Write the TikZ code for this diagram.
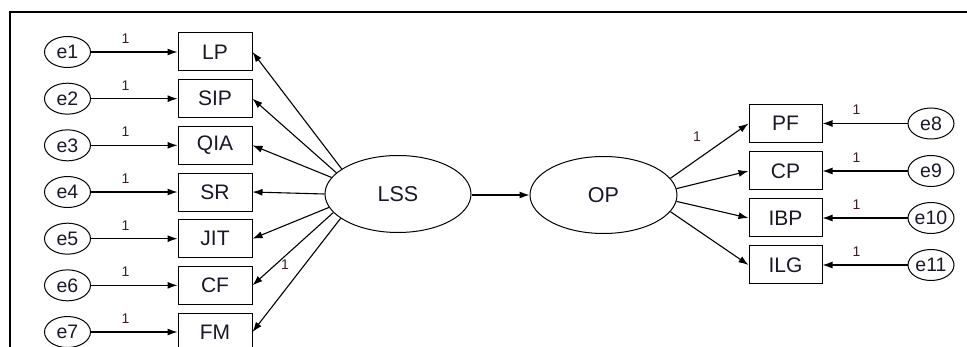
\documentclass[tikz,border=0pt]{standalone}
\usepackage{fontspec}
\setmainfont{Liberation Sans}
\usetikzlibrary{arrows.meta,shapes.geometric}
\definecolor{ink}{RGB}{24,24,40}
\definecolor{lblink}{RGB}{60,30,36}
\newcommand{\errfont}{\fontsize{19.5}{21}\selectfont}
\newcommand{\obsfont}{\fontsize{21}{23}\selectfont}
\newcommand{\latfont}{\fontsize{21.5}{23}\selectfont}
\newcommand{\lblfont}{\fontsize{14}{15}\selectfont}
\begin{document}
\begin{tikzpicture}[x=1pt,y=-1pt,
  every node/.style={text=ink},
  err/.style={draw,ellipse,line width=1pt,minimum width=46pt,minimum height=31pt,inner sep=0pt,
    font=\errfont},
  obs/.style={draw,rectangle,line width=1pt,minimum width=74pt,minimum height=38pt,inner sep=0pt,
    font=\obsfont},
  lat/.style={draw,ellipse,line width=1pt,minimum width=146pt,minimum height=77pt,inner sep=0pt,
    font=\latfont},
  path1/.style={draw,line width=1.1pt,-{Latex[length=10pt,width=7pt]}},
  lbl/.style={text=lblink,font=\lblfont,inner sep=0pt},
  framed/.style={line width=1.8pt}]
\clip (0,0) rectangle (967,347);

% frame lines
\coordinate (fr1) at (10,12);
\coordinate (fr2) at (967,12);
\coordinate (fr3) at (10,347);
\draw[framed] (fr3) -- (fr1) -- (fr2);

% latent variables
\node[lat] (lss) at (398,194) {LSS};
\node[lat,minimum width=147pt] (op) at (603.5,195) {OP};

% left indicators with their error terms
\foreach \nm/\lab/\ang [count=\i from 0] in
  {lp/LP/156, sip/SIP/161, qia/QIA/166, sr/SR/180, jit/JIT/191, cf/CF/196, fm/FM/203}{
  \pgfmathsetmacro{\yy}{52+46.67*\i}
  \pgfmathtruncatemacro{\en}{\i+1}
  \node[obs] (\nm) at (215,\yy) {\lab};
  \node[err] (e\en) at (67.5,\yy) {e\en};
  \draw[path1] (e\en) -- node[lbl,pos=0.4,above=8pt] (l\en) {1} (\nm.west);
  \draw[path1] (lss.\ang) -- (\nm.east);
}

% right indicators with their error terms
\foreach \nm/\lab/\yy/\ang/\en in
  {pf/PF/123.5/14, cp/CP/171/5.5, ibp/IBP/218/-5.5, ilg/ILG/265/-14}{
  \node[obs,minimum width=73pt] (\nm) at (785.5,\yy) {\lab};
  \draw[path1] (op.\ang) -- (\nm.west);
}
\foreach \nm/\yy/\en in {pf/123.5/8, cp/171/9, ibp/218/10, ilg/265/11}{
  \node[err] (e\en) at (931,\yy) {e\en};
  \draw[path1] (e\en) -- node[lbl,pos=0.6,above=8pt] (l\en) {1} (\nm.east);
}

% structural path
\draw[path1] (lss.east |- 0,195) -- (op.west);

% fixed loadings on the reference paths
\node[lbl] (lfm) at (285,265) {1};
\node[lbl] (lpf) at (697,137) {1};
\end{tikzpicture}
\end{document}
